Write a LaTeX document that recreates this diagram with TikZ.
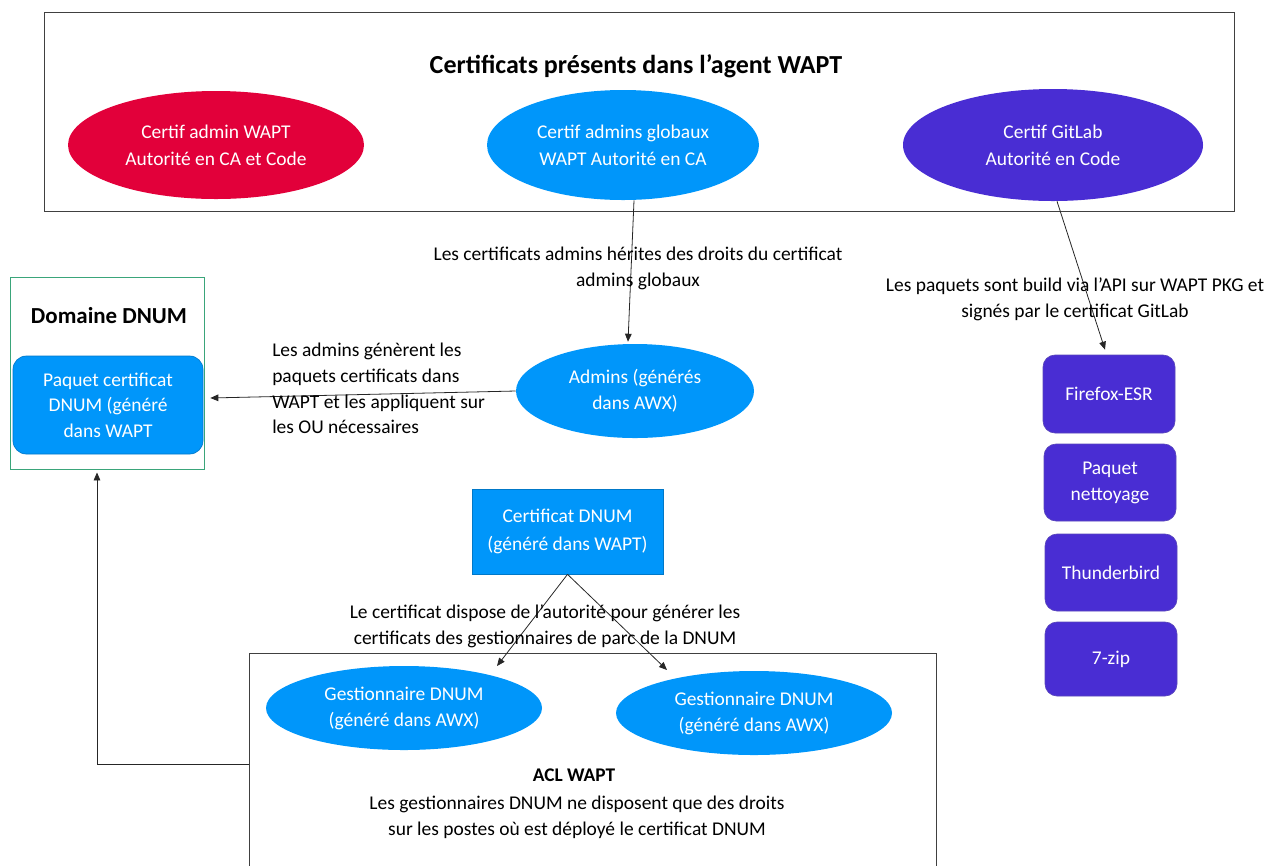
\documentclass[tikz,border=0pt]{standalone}
\usepackage{fontspec}
\setmainfont{Carlito}
\usetikzlibrary{shapes.geometric,arrows.meta,calc}
\definecolor{cred}{HTML}{E2003A}
\definecolor{cblue}{HTML}{0096FA}
\definecolor{cpurple}{HTML}{492DD3}
\definecolor{cframe}{HTML}{404040}
\definecolor{cgreen}{HTML}{3AA57A}
\newcommand{\bodyfont}{\fontsize{14.6}{19.5}\selectfont}
\begin{document}
\begin{tikzpicture}[x=0.75pt,y=-0.75pt,
  lbl/.style={font=\bodyfont, align=center, inner sep=0pt, text=black},
  ell/.style={ellipse, inner sep=0pt, text=white, align=center, font=\fontsize{14.6}{20.5}\selectfont},
  frame/.style={draw=cframe, line width=0.7pt, inner sep=0pt},
  pbox/.style={rounded corners=9pt, fill=cpurple, draw=cpurple!70!gray, line width=0.5pt, text=white, align=center, inner sep=0pt, minimum width=99pt, font=\bodyfont},
  conn/.style={draw=black!85, line width=0.6pt, -{Triangle[length=6pt,width=5pt]}}
]
\useasboundingbox (0,0) rectangle (1276,865);

% top container
\node[frame, minimum width=892.5pt, minimum height=149.25pt] (top) at (639,111.5) {};
\node[lbl, font=\fontsize{19.5}{23}\selectfont\bfseries] (title) at (636,66) {Certificats présents dans l’agent WAPT};
\node[ell, fill=cred, minimum width=222pt, minimum height=81pt] (red) at (216,145) {Certif admin WAPT\\Autorité en CA et Code};
\node[ell, fill=cblue, minimum width=204pt, minimum height=82.5pt] (ga) at (623,145) {Certif admins globaux\\WAPT Autorité en CA};
\node[ell, fill=cpurple, minimum width=225pt, minimum height=84pt] (gl) at (1053,145) {Certif GitLab\\Autorité en Code};

% admins
\node[ell, fill=cblue, minimum width=178.5pt, minimum height=70.5pt, font=\bodyfont] (adm) at (635,391) {\raisebox{-3pt}{\parbox{120pt}{\centering Admins (générés\\dans AWX)}}};
\draw[conn] ($(ga.south)+(11,0)$) -- ($(adm.north)+(-7,-2)$);
\node[lbl] (l1) at (638,268) {Les certificats admins hérites des droits du certificat\\admins globaux};

% domaine DNUM
\node[draw=cgreen, line width=0.7pt, minimum width=145.5pt, minimum height=144pt, inner sep=0pt] (dom) at (107,373) {};
\node[lbl, font=\fontsize{17.2}{20}\selectfont\bfseries] (domt) at (109,316) {Domaine DNUM};
\node[rounded corners=10pt, fill=cblue, draw=cblue!80!black, line width=0.5pt, text=white, align=center, inner sep=0pt, minimum width=142.5pt, minimum height=73.5pt, font=\fontsize{14.6}{19.2}\selectfont] (paq) at (108,405) {\raisebox{-3pt}{\parbox{130pt}{\centering Paquet certificat\\DNUM (généré\\dans WAPT}}};
\draw[conn] (adm.west) -- ($(paq.east)+(7,-7)$);
\node[lbl, align=left, anchor=north west, font=\fontsize{14.6}{19.3}\selectfont] (l2) at (272,343) {Les admins génèrent les\\paquets certificats dans\\WAPT et les appliquent sur\\les OU nécessaires};

% GitLab packages
\node[pbox, minimum height=58.5pt] (ff) at (1109,394) {Firefox-ESR};
\node[pbox, minimum height=57.75pt] (pn) at (1110,482.5) {Paquet\\nettoyage};
\node[pbox, minimum height=57.75pt] (tb) at (1111,572.5) {Thunderbird};
\node[pbox, minimum height=55.5pt] (zip) at (1111,659) {7-zip};
\draw[conn] ($(gl.south)+(4,0)$) -- ($(ff.north)+(-4,-5)$);
\node[lbl] (l3) at (1075,299) {Les paquets sont build via l’API sur WAPT PKG et\\signés par le certificat GitLab};

% certificat DNUM
\node[fill=cblue, draw=cblue!80!black, line width=0.5pt, text=white, align=center, inner sep=0pt, minimum width=143.25pt, minimum height=63.75pt, font=\fontsize{14.6}{21}\selectfont] (cd) at (567.5,531.5) {Certificat DNUM\\(généré dans WAPT)};

% ACL box
\node[frame, minimum width=515.25pt, minimum height=170.25pt] (acl) at (592.5,766.5) {};
\node[ell, fill=cblue, minimum width=207pt, minimum height=63pt, font=\bodyfont] (g1) at (404,708) {Gestionnaire DNUM\\(généré dans AWX)};
\node[ell, fill=cblue, minimum width=207pt, minimum height=63pt, font=\bodyfont] (g2) at (754,713) {Gestionnaire DNUM\\(généré dans AWX)};
\draw[conn] (cd.south) -- ($(g1.center)+(93,-42)$);
\draw[conn] (cd.south) -- ($(g2.center)+(-87,-43)$);
\node[lbl] (l4) at (545,626) {Le certificat dispose de l’autorité pour générer les\\certificats des gestionnaires de parc de la DNUM};
\node[lbl, font=\fontsize{14.5}{17}\selectfont\bfseries] (aclt) at (574,775) {ACL WAPT};
\node[lbl] (l5) at (577,817) {Les gestionnaires DNUM ne disposent que des droits\\sur les postes où est déployé le certificat DNUM};

\draw[conn] ($(acl.west)+(0,-2)$) -| ($(dom.south)+(-10,3)$);
\end{tikzpicture}
\end{document}
